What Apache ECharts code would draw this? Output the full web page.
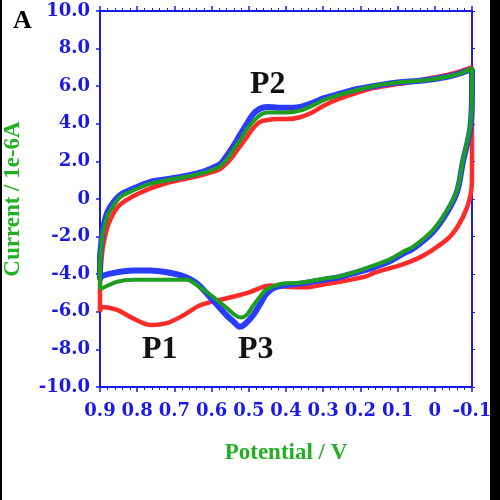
<!DOCTYPE html>
<html>
<head>
<meta charset="utf-8">
<script src="https://cdn.jsdelivr.net/npm/echarts@6/dist/echarts.min.js"></script>
<style>html,body{margin:0;padding:0;background:#fff}#c{width:500px;height:500px}</style>
</head>
<body>
<div id="c"></div>
<script>
// Potential (V) / Current (1e-6 A) pairs
const redForward = [[0.9,-6.0],[0.9,-4.8],[0.897,-3.5],[0.892,-2.55],[0.88,-1.5],[0.865,-0.8],[0.846,-0.3],[0.811,0.15],[0.766,0.55],[0.72,0.85],[0.677,1.05],[0.631,1.25],[0.604,1.4],[0.577,1.6],[0.559,1.9],[0.542,2.3],[0.524,2.8],[0.505,3.3],[0.489,3.75],[0.47,4.1],[0.451,4.2],[0.42,4.25],[0.397,4.25],[0.362,4.35],[0.33,4.6],[0.3,4.95],[0.255,5.35],[0.209,5.65],[0.166,5.9],[0.12,6.05],[0.07,6.2],[0.032,6.35],[-0.033,6.6],[-0.07,6.8],[-0.1,7.0]];
const redReverse = [[-0.1,7.0],[-0.1,1.15],[-0.095,0.1],[-0.076,-0.95],[-0.041,-2.0],[0.013,-2.8],[0.05,-3.2],[0.09,-3.5],[0.166,-3.95],[0.182,-4.1],[0.255,-4.4],[0.3,-4.55],[0.344,-4.7],[0.362,-4.7],[0.408,-4.65],[0.443,-4.6],[0.497,-4.95],[0.542,-5.2],[0.585,-5.4],[0.631,-5.65],[0.677,-6.2],[0.72,-6.6],[0.766,-6.7],[0.811,-6.35],[0.854,-5.9],[0.895,-5.75],[0.9,-6.0]];
const blueForward = [[0.9,-4.3],[0.9,-3.2],[0.897,-2.4],[0.892,-1.6],[0.88,-0.7],[0.865,-0.2],[0.846,0.2],[0.811,0.55],[0.766,0.9],[0.72,1.05],[0.677,1.2],[0.631,1.4],[0.604,1.6],[0.577,1.85],[0.559,2.3],[0.542,2.8],[0.524,3.4],[0.505,4.0],[0.489,4.5],[0.47,4.8],[0.451,4.9],[0.42,4.85],[0.397,4.85],[0.362,4.9],[0.33,5.1],[0.3,5.35],[0.255,5.6],[0.209,5.85],[0.166,6.0],[0.12,6.15],[0.07,6.25],[0.032,6.3],[-0.033,6.5],[-0.07,6.7],[-0.1,6.9]];
const blueReverse = [[-0.1,6.9],[-0.1,5.6],[-0.095,3.7],[-0.076,2.0],[-0.06,0.4],[-0.033,-0.7],[0.005,-1.75],[0.059,-2.65],[0.085,-2.9],[0.12,-3.3],[0.166,-3.65],[0.209,-3.9],[0.255,-4.15],[0.3,-4.3],[0.362,-4.5],[0.408,-4.6],[0.435,-4.75],[0.455,-5.1],[0.47,-5.6],[0.489,-6.2],[0.51,-6.65],[0.524,-6.8],[0.542,-6.5],[0.559,-6.2],[0.596,-5.4],[0.639,-4.5],[0.677,-4.1],[0.72,-3.9],[0.766,-3.8],[0.811,-3.8],[0.854,-3.9],[0.895,-4.1],[0.9,-4.3]];
const greenForward = [[0.9,-4.8],[0.9,-3.6],[0.897,-2.7],[0.892,-1.8],[0.88,-0.9],[0.865,-0.4],[0.846,0.1],[0.811,0.45],[0.766,0.8],[0.72,1.0],[0.677,1.15],[0.631,1.35],[0.604,1.5],[0.577,1.75],[0.559,2.1],[0.542,2.6],[0.524,3.1],[0.505,3.7],[0.489,4.1],[0.47,4.45],[0.451,4.6],[0.42,4.6],[0.397,4.6],[0.362,4.7],[0.33,4.95],[0.3,5.25],[0.255,5.55],[0.209,5.8],[0.166,6.0],[0.12,6.15],[0.07,6.25],[0.032,6.3],[-0.033,6.5],[-0.07,6.7],[-0.1,6.95]];
const greenReverse = [[-0.1,6.95],[-0.1,5.8],[-0.095,3.8],[-0.076,2.1],[-0.06,0.5],[-0.033,-0.6],[0.005,-1.65],[0.059,-2.55],[0.085,-2.8],[0.12,-3.2],[0.166,-3.55],[0.209,-3.85],[0.255,-4.1],[0.3,-4.25],[0.362,-4.45],[0.408,-4.5],[0.435,-4.65],[0.455,-4.85],[0.47,-5.2],[0.489,-5.7],[0.505,-6.15],[0.52,-6.3],[0.535,-6.2],[0.559,-5.8],[0.596,-5.2],[0.631,-4.7],[0.666,-4.3],[0.72,-4.3],[0.766,-4.3],[0.811,-4.3],[0.854,-4.4],[0.895,-4.75],[0.9,-4.8]];

const xTitle = 'Potential / V';
const yTitle = 'Current / 1e-6A';
const peakLabels = ['P1','P2','P3'];
const panelLabel = 'A';

const AX = '#1a1ae6';
const GREEN_T = '#22b022';
const SERIF = "'Liberation Serif','Times New Roman',serif";
const TICKFONT = "'DejaVu Serif','Liberation Serif',serif";

const chart = echarts.init(document.getElementById('c'), null, {renderer:'canvas'});
const fmt = v => Math.abs(v) < 1e-9 ? '0' : v.toFixed(1);
const tickLab = {color:AX, fontFamily:TICKFONT, fontWeight:'bold', fontSize:18};
const nameStyle = {color:GREEN_T, fontFamily:SERIF, fontWeight:'bold', fontSize:23};

chart.setOption({
  animation:false,
  backgroundColor:'#fff',
  grid:{left:100, right:28, top:11, bottom:113, containLabel:false, outerBoundsMode:'none'},
  xAxis:[{
    type:'value', inverse:true, min:-0.1, max:0.9, interval:0.1,
    position:'bottom',
    name:xTitle, nameLocation:'middle', nameGap:55,
    nameTextStyle:nameStyle,
    axisLine:{show:true, onZero:false, lineStyle:{color:AX, width:2}},
    axisTick:{show:true, inside:false, length:5, lineStyle:{color:AX, width:1.5}},
    minorTick:{show:true, splitNumber:5, length:3, lineStyle:{color:AX, width:1}},
    splitLine:{show:false},
    axisLabel:Object.assign({margin:15, formatter:fmt, hideOverlap:false}, tickLab)
  },{
    type:'value', inverse:true, min:-0.1, max:0.9, interval:0.1,
    position:'top',
    axisLine:{show:true, onZero:false, lineStyle:{color:AX, width:2}},
    axisTick:{show:true, inside:false, length:5, lineStyle:{color:AX, width:1.5}},
    minorTick:{show:true, splitNumber:5, length:3, lineStyle:{color:AX, width:1}},
    splitLine:{show:false},
    axisLabel:{show:false}
  }],
  yAxis:[{
    type:'value', min:-10, max:10, interval:2,
    position:'left',
    name:yTitle, nameLocation:'middle', nameGap:75, nameRotate:90,
    nameTextStyle:nameStyle,
    axisLine:{show:true, onZero:false, lineStyle:{color:AX, width:2}},
    axisTick:{show:true, inside:false, length:4, lineStyle:{color:AX, width:1.5}},
    splitLine:{show:false},
    axisLabel:Object.assign({margin:10, formatter:fmt}, tickLab)
  },{
    type:'value', min:-10, max:10, interval:2,
    position:'right',
    axisLine:{show:true, onZero:false, lineStyle:{color:AX, width:2}},
    axisTick:{show:true, inside:false, length:3, lineStyle:{color:AX, width:1}},
    splitLine:{show:false},
    axisLabel:{show:false}
  }],
  series:[
    {type:'line', name:'red', data:redForward.concat(redReverse), showSymbol:false, smooth:0.3,
     lineStyle:{color:'#ff2a2a', width:4.5}, itemStyle:{color:'#ff2a2a'}, z:2},
    {type:'line', name:'blue', data:blueForward.concat(blueReverse), showSymbol:false, smooth:0.3,
     lineStyle:{color:'#2a3cff', width:6}, itemStyle:{color:'#2a3cff'}, z:3},
    {type:'line', name:'green', data:greenForward.concat(greenReverse), showSymbol:false, smooth:0.3,
     lineStyle:{color:'#1e9e1e', width:4}, itemStyle:{color:'#1e9e1e'}, z:4}
  ],
  graphic:[
    {type:'rect', left:0, top:0, shape:{width:2, height:500}, style:{fill:'#000'}, silent:true},
    {type:'rect', left:490, top:0, shape:{width:10, height:500}, style:{fill:'#000'}, silent:true},
    {type:'text', left:13, top:8, style:{text:panelLabel, font:"bold 26px 'Liberation Serif',serif", fill:'#000'}},
    {type:'text', left:142, top:334, style:{text:peakLabels[0], font:"bold 32px 'Liberation Serif',serif", fill:'#111'}},
    {type:'text', left:250, top:69, style:{text:peakLabels[1], font:"bold 32px 'Liberation Serif',serif", fill:'#111'}},
    {type:'text', left:238, top:334, style:{text:peakLabels[2], font:"bold 32px 'Liberation Serif',serif", fill:'#111'}}
  ]
});
</script>
</body>
</html>
